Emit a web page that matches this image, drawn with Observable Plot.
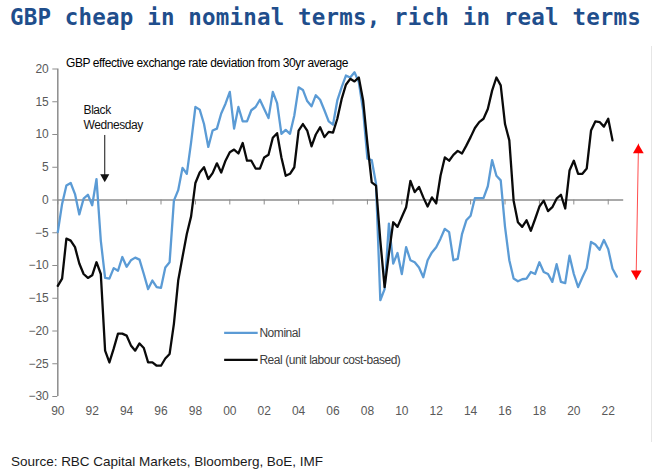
<!DOCTYPE html>
<html>
<head>
<meta charset="utf-8">
<script src="https://cdn.jsdelivr.net/npm/d3@7"></script>
<script src="https://cdn.jsdelivr.net/npm/@observablehq/plot@0.6"></script>
<style>
  html, body { margin: 0; padding: 0; background: #fff; }
  body { width: 659px; height: 471px; position: relative; overflow: hidden; font-family: "Liberation Sans", Arial, sans-serif; }
  #title { position: absolute; left: 10px; top: 6px; font: bold 22.5px/1 "DejaVu Sans Mono", monospace; color: #1f4e8c; white-space: nowrap; }
  #subtitle { position: absolute; left: 66px; top: 56.5px; font-size: 12px; line-height: 1; color: #000; white-space: nowrap; }
  #chart { position: absolute; left: 0; top: 50px; }
  #source { position: absolute; left: 11px; top: 455px; font-size: 13.5px; line-height: 1; color: #1a1a1a; white-space: nowrap; }
  #frame { position: absolute; left: 651px; top: 46px; width: 1px; height: 396px; background: #e6e6e6; }
</style>
</head>
<body>
<div id="title">GBP cheap in nominal terms, rich in real terms</div>
<div id="subtitle">GBP effective exchange rate deviation from 30yr average</div>
<div id="chart"></div>
<div id="frame"></div>
<div id="source">Source: RBC Capital Markets, Bloomberg, BoE, IMF</div>
<script>
// ---- data (quarterly, starting 1990 Q1) ----
const startYear = 1990;
const seriesNames = ["Nominal", "Real (unit labour cost-based)"];
const seriesColors = ["#5b9bd5", "#0a0a0a"];
const nominal = [
  -4.9, -0.6, 2.2, 2.6, 0.9, -2.2, 0.2, 0.8, -0.8, 3.2, -6.2, -11.9,
  -12.0, -10.4, -10.8, -8.7, -10.2, -9.2, -8.8, -9.1, -11.3, -13.6, -12.3, -13.3,
  -13.4, -10.3, -9.5, -0.1, 1.5, 4.9, 4.0, 8.8, 14.2, 13.8, 11.6, 8.1,
  10.6, 10.9, 13.2, 14.7, 16.5, 10.9, 14.2, 12.0, 12.0, 13.7, 14.2, 15.3,
  13.9, 12.5, 16.5, 14.8, 10.1, 10.7, 10.1, 12.9, 17.2, 16.8, 15.1, 14.3,
  16.0, 15.3, 13.7, 12.0, 11.5, 15.2, 17.2, 19.0, 18.7, 19.5, 18.0, 13.7,
  6.3, 6.1, 2.5, -15.3, -13.6, -3.6, -9.7, -8.1, -11.3, -7.2, -9.2, -9.5,
  -10.3, -11.8, -9.2, -8.0, -7.2, -5.9, -4.4, -4.9, -9.2, -9.0, -5.2, -3.1,
  -2.4, 0.3, 0.3, 0.3, 2.1, 6.1, 3.7, 3.0, -4.1, -9.2, -12.0, -12.4,
  -12.1, -12.0, -11.0, -11.3, -9.5, -11.0, -11.3, -12.5, -9.8, -12.5, -12.7, -8.5,
  -11.3, -13.3, -11.8, -10.4, -6.4, -6.8, -7.6, -6.1, -7.5, -10.5, -11.7
];
const real = [
  -13.1, -12.0, -5.9, -6.2, -7.2, -9.7, -11.3, -11.9, -11.5, -9.5, -11.3, -23.0,
  -24.8, -22.7, -20.4, -20.4, -20.7, -22.2, -23.0, -21.9, -22.6, -24.8, -24.8, -25.3,
  -25.3, -24.2, -23.5, -18.9, -12.3, -8.7, -5.2, -2.5, 2.6, 4.2, 5.0, 3.2,
  4.1, 5.6, 4.2, 6.0, 7.3, 7.7, 7.1, 8.7, 6.0, 6.0, 4.8, 4.8,
  6.5, 6.9, 9.5, 10.2, 6.5, 3.7, 4.0, 5.0, 10.6, 11.6, 10.6, 8.2,
  10.0, 11.1, 9.6, 10.4, 10.3, 12.4, 15.4, 17.6, 18.5, 18.1, 18.7, 15.2,
  8.6, 2.7, 2.2, -6.2, -13.3, -8.2, -3.4, -4.1, -2.6, -1.1, 2.9, 1.2,
  2.0, 0.4, -1.0, 0.4, -0.5, 3.7, 6.5, 6.0, 6.9, 7.5, 7.1, 8.3,
  9.6, 11.0, 11.9, 12.4, 13.9, 16.7, 18.7, 17.5, 11.6, 9.1, -0.1, -3.4,
  -4.1, -3.1, -4.7, -2.9, -1.0, -0.1, -1.7, -1.1, 0.2, 0.8, -1.3, 4.5,
  6.0, 4.0, 4.0, 4.8, 10.6, 12.0, 11.9, 11.2, 12.4, 9.1
];
const xTickYears = d3.range(1990, 2023, 2);
const yTickValues = d3.range(-30, 21, 5);
const annotationText = "Black\nWednesday";

const nomData = nominal.map((v, i) => ({date: startYear + i / 4, value: v}));
const realData = real.map((v, i) => ({date: startYear + i / 4, value: v}));
const lastNom = nominal[nominal.length - 1];
const lastReal = real[real.length - 1];

const axisGray = "#8c8c8c";
const labelGray = "#595959";

const chart = Plot.plot({
  width: 659,
  height: 380,
  marginLeft: 57.3,
  marginRight: 35.8,
  marginTop: 18.5,
  marginBottom: 34,
  style: {fontFamily: "'Liberation Sans', Arial, sans-serif", fontSize: "12px", background: "transparent", overflow: "visible"},
  x: {domain: [1990, 2022.9]},
  y: {domain: [-30, 20]},
  marks: [
    Plot.ruleY([0], {stroke: axisGray, strokeWidth: 1.5}),
    Plot.ruleX(xTickYears, {x: d => d, y1: 0, y2: -0.76, stroke: axisGray, strokeWidth: 1}),
    Plot.ruleX([1990], {stroke: axisGray, strokeWidth: 1.5}),
    Plot.axisY({ticks: yTickValues, tickSize: 5, tickPadding: 4, stroke: axisGray, fill: labelGray, label: null}),
    Plot.axisX({ticks: xTickYears, tickSize: 0, tickPadding: 10, fill: labelGray, label: null,
      tickFormat: d => String(d % 100).padStart(2, "0")}),
    // series
    Plot.lineY(nomData, {x: "date", y: "value", stroke: seriesColors[0], strokeWidth: 2.3}),
    Plot.lineY(realData, {x: "date", y: "value", stroke: seriesColors[1], strokeWidth: 2.3}),
    // legend (inside plot)
    Plot.ruleY([-20.3], {x1: 1999.7, x2: 2001.65, stroke: seriesColors[0], strokeWidth: 2.3}),
    Plot.ruleY([-24.4], {x1: 1999.7, x2: 2001.65, stroke: seriesColors[1], strokeWidth: 2.3}),
    Plot.text([seriesNames[0]], {x: 2001.72, y: -20.3, text: d => d, textAnchor: "start", fill: "#404040"}),
    Plot.text([seriesNames[1]], {x: 2001.72, y: -24.4, text: d => d, textAnchor: "start", fill: "#404040"}),
    // Black Wednesday annotation
    Plot.text([annotationText], {x: 1991.5, y: 14.75, text: d => d, textAnchor: "start", lineAnchor: "top", lineHeight: 1.25, fill: "#111"}),
    Plot.ruleX([1992.73], {y1: 9.85, y2: 3.6, stroke: "#111", strokeWidth: 1}),
    Plot.dot([1992.73], {x: d => d, y: 3.53, symbol: "triangle", r: 3.4, fill: "#111", stroke: null, rotate: 180}),
    // red range arrow between the last values
    Plot.link([0], {x1: 2023.76, x2: 2023.62, y1: lastReal - 0.5, y2: lastNom - 0.5, stroke: "#ff4d4d", strokeWidth: 1}),
    Plot.dot([0], {x: 2023.75, y: lastReal - 1.5, symbol: "triangle", r: 4, fill: "#ff0000", stroke: null}),
    Plot.dot([0], {x: 2023.63, y: lastNom + 0.46, symbol: "triangle", r: 4, fill: "#ff0000", stroke: null, rotate: 180})
  ]
});
document.getElementById("chart").appendChild(chart);
d3.select(chart).selectAll("g[aria-label='text'] text").style("letter-spacing", "-0.45px");

// fit text widths to the reference
function fitWidth(id, target) {
  const el = document.getElementById(id);
  const n = el.textContent.length;
  const w = el.getBoundingClientRect().width;
  el.style.letterSpacing = ((target - w) / n) + "px";
}
fitWidth("title", 631);
fitWidth("subtitle", 282);
fitWidth("source", 312);
</script>
</body>
</html>
